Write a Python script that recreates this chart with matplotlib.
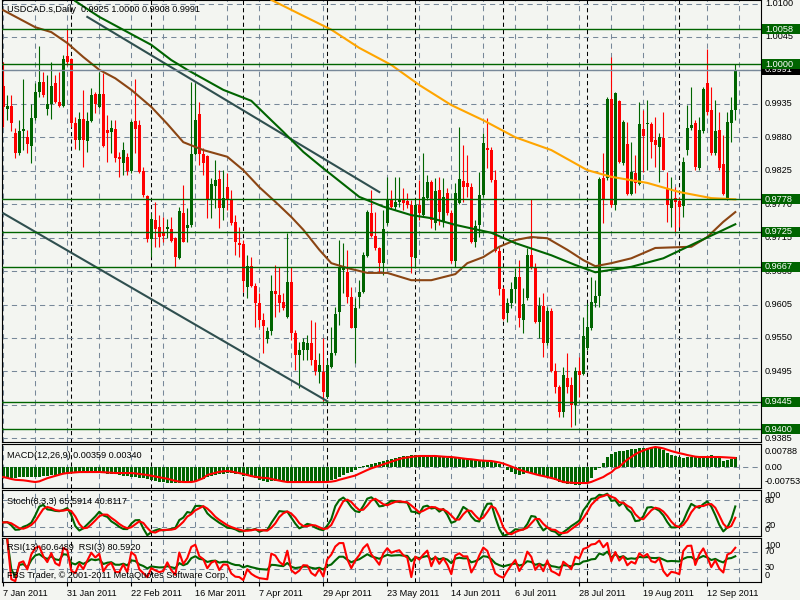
import numpy as np
import pandas as pd
import matplotlib
matplotlib.use("Agg")
import matplotlib.pyplot as plt
from matplotlib.patches import Rectangle
from matplotlib.transforms import blended_transform_factory

plt.rcParams['font.family'] = ['Liberation Sans', 'DejaVu Sans']

# USDCAD.s daily, 7 Jan 2011 .. 21 Sep 2011, prices in pips (1e-4)
opens = [9964, 9926, 9931, 9887, 9854, 9890, 9880, 9866, 9912, 9955,
         9971, 9926, 9935, 9969, 9938, 9931, 10014, 10009, 9903, 9876,
         9910, 9874, 9907, 9951, 9930, 9951, 9892, 9889, 9894, 9848,
         9838, 9848, 9825, 9907, 9900, 9825, 9783, 9713, 9744, 9733,
         9723, 9729, 9729, 9714, 9681, 9755, 9731, 9736, 9853, 9918,
         9853, 9849, 9779, 9800, 9811, 9764, 9798, 9779, 9741, 9706,
         9705, 9634, 9668, 9635, 9607, 9580, 9548, 9561, 9627, 9621,
         9609, 9584, 9642, 9558, 9522, 9530, 9530, 9542, 9514, 9494,
         9494, 9453, 9502, 9525, 9593, 9662, 9658, 9617, 9566, 9617,
         9626, 9685, 9755, 9718, 9698, 9673, 9739, 9779, 9765, 9774,
         9779, 9775, 9769, 9681, 9769, 9752, 9780, 9807, 9739, 9793,
         9741, 9788, 9755, 9677, 9772, 9808, 9805, 9798, 9708, 9736,
         9785, 9862, 9859, 9810, 9693, 9630, 9591, 9607, 9630, 9650,
         9580, 9616, 9686, 9665, 9576, 9602, 9542, 9594, 9496, 9469,
         9428, 9484, 9473, 9440, 9496, 9491, 9533, 9566, 9607, 9619,
         9813, 9813, 9943, 9769, 9940, 9838, 9869, 9787, 9821, 9803,
         9894, 9902, 9902, 9876, 9864, 9879, 9797, 9764, 9780, 9775,
         9767, 9859, 9895, 9903, 9829, 9890, 9969, 9925, 9854, 9892,
         9836, 9779, 9903, 9925]
highs = [10004, 9950, 9950, 9895, 9908, 9976, 9892, 9935, 9969, 10030,
         9987, 9982, 10004, 9982, 9987, 10015, 10058, 10010, 9913, 9922,
         9958, 9922, 9961, 9955, 9987, 9986, 9917, 9908, 9908, 9856,
         9872, 9854, 9908, 9976, 9908, 9831, 9785, 9755, 9774, 9752,
         9749, 9746, 9749, 9716, 9766, 9802, 9764, 9971, 9969, 9938,
         9862, 9851, 9813, 9843, 9826, 9826, 9821, 9793, 9752, 9733,
         9711, 9686, 9683, 9640, 9624, 9591, 9568, 9653, 9670, 9667,
         9624, 9723, 9667, 9563, 9543, 9550, 9555, 9580, 9576, 9525,
         9550, 9514, 9568, 9601, 9711, 9706, 9695, 9634, 9616, 9645,
         9691, 9760, 9793, 9757, 9700, 9760, 9815, 9793, 9815, 9815,
         9797, 9788, 9777, 9777, 9810, 9854, 9818, 9810, 9813, 9815,
         9813, 9797, 9760, 9805, 9897, 9867, 9851, 9805, 9744, 9823,
         9887, 9912, 9864, 9826, 9700, 9634, 9616, 9642, 9665, 9678,
         9632, 9698, 9779, 9673, 9617, 9624, 9601, 9599, 9509, 9472,
         9502, 9525, 9486, 9502, 9519, 9584, 9607, 9650, 9645, 9815,
         9854, 9946, 10012, 9955, 9941, 9908, 9905, 9872, 9851, 9938,
         9925, 9941, 9905, 9913, 9887, 9922, 9823, 9815, 9798, 9782,
         9848, 9933, 9963, 9908, 9913, 9963, 10025, 9963, 9941, 9922,
         9884, 9922, 9946, 10000]
lows = [9897, 9908, 9890, 9846, 9851, 9859, 9854, 9838, 9908, 9946,
        9946, 9917, 9910, 9936, 9930, 9930, 9999, 9897, 9861, 9859,
        9831, 9856, 9905, 9920, 9928, 9864, 9839, 9854, 9839, 9815,
        9818, 9818, 9821, 9854, 9821, 9782, 9708, 9683, 9700, 9700,
        9708, 9714, 9708, 9667, 9680, 9708, 9708, 9733, 9851, 9834,
        9818, 9747, 9747, 9764, 9731, 9744, 9760, 9736, 9686, 9683,
        9626, 9616, 9634, 9568, 9568, 9525, 9542, 9555, 9584, 9593,
        9596, 9583, 9547, 9497, 9468, 9514, 9514, 9505, 9489, 9476,
        9446, 9451, 9500, 9522, 9571, 9624, 9607, 9566, 9509, 9599,
        9624, 9683, 9716, 9695, 9657, 9653, 9736, 9764, 9760, 9765,
        9760, 9764, 9657, 9665, 9744, 9749, 9777, 9731, 9728, 9736,
        9733, 9752, 9673, 9667, 9770, 9774, 9782, 9706, 9700, 9716,
        9782, 9830, 9807, 9691, 9621, 9580, 9576, 9599, 9607, 9568,
        9558, 9612, 9663, 9575, 9550, 9519, 9538, 9494, 9459, 9420,
        9420, 9459, 9404, 9407, 9453, 9489, 9530, 9563, 9601, 9601,
        9739, 9810, 9765, 9760, 9838, 9834, 9785, 9785, 9788, 9802,
        9823, 9826, 9846, 9831, 9807, 9826, 9741, 9733, 9724, 9733,
        9749, 9851, 9892, 9826, 9826, 9887, 9917, 9851, 9851, 9826,
        9785, 9777, 9872, 9908]
closes = [9930, 9931, 9903, 9854, 9890, 9894, 9869, 9912, 9955, 9971,
          9950, 9935, 9964, 9938, 9931, 10009, 10004, 9903, 9876, 9910,
          9876, 9907, 9950, 9935, 9951, 9866, 9887, 9895, 9846, 9844,
          9859, 9825, 9905, 9894, 9823, 9785, 9713, 9746, 9729, 9716,
          9718, 9733, 9709, 9683, 9759, 9708, 9736, 9853, 9908, 9853,
          9838, 9779, 9803, 9810, 9764, 9780, 9779, 9739, 9708, 9703,
          9644, 9668, 9635, 9607, 9580, 9570, 9561, 9627, 9622, 9607,
          9599, 9642, 9558, 9522, 9530, 9543, 9542, 9514, 9496, 9505,
          9461, 9505, 9525, 9589, 9667, 9667, 9617, 9566, 9599, 9626,
          9686, 9757, 9718, 9698, 9673, 9729, 9779, 9765, 9774, 9779,
          9772, 9769, 9683, 9769, 9755, 9782, 9807, 9744, 9792, 9757,
          9782, 9755, 9677, 9788, 9811, 9798, 9798, 9708, 9734, 9785,
          9871, 9859, 9810, 9693, 9630, 9581, 9607, 9630, 9650, 9583,
          9606, 9686, 9665, 9576, 9602, 9542, 9594, 9496, 9469, 9428,
          9489, 9469, 9440, 9496, 9489, 9553, 9568, 9609, 9619, 9811,
          9779, 9943, 9769, 9953, 9839, 9905, 9787, 9823, 9805, 9902,
          9882, 9903, 9872, 9867, 9880, 9826, 9768, 9779, 9774, 9765,
          9839, 9895, 9900, 9831, 9892, 9959, 9922, 9854, 9890, 9830,
          9787, 9905, 9925, 9991]

# MACD(12,26,9) main and signal, in 1e-5
macd_main = [-414, -414, -414, -400, -376, -376, -376, -376, -376, -360,
             -340, -320, -301, -290, -270, -250, -226, -226, -226, -226,
             -226, -226, -226, -226, -226, -235, -245, -255, -263, -290,
             -320, -350, -370, -376, -400, -430, -460, -489, -520, -550,
             -580, -602, -610, -610, -605, -602, -580, -550, -520, -489,
             -440, -390, -340, -301, -280, -250, -235, -226, -250, -280,
             -320, -350, -376, -420, -470, -520, -564, -526, -530, -540,
             -550, -555, -560, -564, -564, -570, -580, -590, -600, -602,
             -602, -560, -500, -440, -380, -300, -230, -170, -100, -40,
             20, 70, 110, 150, 190, 240, 280, 310, 340, 370,
             400, 420, 440, 451, 451, 440, 430, 400, 376, 370,
             360, 350, 338, 330, 320, 310, 301, 290, 280, 270,
             263, 250, 240, 200, 100, 0, -100, -200, -280, -300,
             -260, -230, -240, -270, -301, -330, -360, -400, -470, -564,
             -600, -630, -650, -670, -677, -640, -564, -420, -100, -40,
             150, 376, 480, 564, 600, 620, 639, 670, 690, 714,
             714, 730, 740, 752, 700, 639, 540, 451, 400, 360,
             338, 360, 376, 376, 376, 376, 420, 451, 400, 376,
             226, 280, 301, 359]
macd_signal = [-376, -410, -450, -480, -489, -500, -520, -545, -564, -540,
               -480, -420, -376, -330, -290, -250, -226, -215, -200, -190,
               -188, -188, -188, -188, -188, -195, -205, -215, -226, -226,
               -226, -226, -226, -240, -260, -280, -301, -330, -360, -390,
               -414, -440, -480, -520, -550, -564, -564, -564, -540, -480,
               -420, -301, -260, -220, -180, -160, -150, -170, -200, -226,
               -260, -300, -340, -370, -390, -410, -414, -450, -480, -510,
               -540, -564, -564, -564, -564, -564, -564, -564, -564, -564,
               -564, -564, -550, -526, -480, -440, -400, -360, -320, -250,
               -180, -113, -50, 0, 50, 100, 150, 200, 250, 300,
               338, 360, 380, 400, 414, 414, 414, 414, 414, 400,
               390, 380, 376, 360, 340, 320, 301, 290, 270, 250,
               240, 230, 226, 200, 170, 130, 75, 20, -40, -100,
               -150, -188, -230, -270, -310, -340, -376, -410, -450, -510,
               -564, -580, -590, -600, -602, -602, -602, -560, -500, -440,
               -376, -280, -200, -60, 0, 150, 280, 376, 480, 560,
               620, 677, 720, 752, 730, 700, 650, 600, 560, 520,
               489, 450, 420, 390, 376, 376, 376, 376, 376, 376,
               370, 360, 350, 340]

# moving averages (bar index, price)
brown_bar = [0, 8, 12, 16, 20, 24, 28, 32, 37, 41, 45, 50, 56, 60, 64, 68, 72, 75, 79, 82,
             86, 91, 96, 102, 107, 113, 116, 120, 124, 128, 132, 136, 141, 145, 148, 152,
             157, 163, 172, 176, 180, 183]
brown_ma = [1.0089, 1.0061, 1.0053, 1.0035, 1.0012, 0.9991, 0.9977, 0.9958, 0.9930, 0.9902,
            0.9872, 0.9859, 0.9848, 0.9826, 0.9798, 0.9774, 0.9749, 0.9728, 0.9695, 0.9673,
            0.9665, 0.9657, 0.9657, 0.9645, 0.9645, 0.9655, 0.9673, 0.9683, 0.9700, 0.9711,
            0.9716, 0.9714, 0.9695, 0.9678, 0.9668, 0.9673, 0.9681, 0.9698, 0.9700, 0.9716,
            0.9741, 0.9757]
green_bar = [18, 24, 37, 42, 46, 55, 62, 67, 70, 75, 80, 89, 95, 102, 107, 113, 122, 128,
             137, 143, 148, 157, 165, 173, 183]
green_ma = [1.0104, 1.0078, 1.0032, 1.0007, 0.9991, 0.9958, 0.9940, 0.9908, 0.9889, 0.9856,
            0.9829, 0.9782, 0.9766, 0.9752, 0.9747, 0.9736, 0.9723, 0.9706, 0.9686, 0.9670,
            0.9658, 0.9667, 0.9681, 0.9706, 0.9737]
orange_bar = [67, 74, 82, 89, 97, 104, 112, 120, 128, 137, 146, 152, 161, 169, 177, 183]
orange_ma = [1.0106, 1.0083, 1.0057, 1.0027, 0.9999, 0.9966, 0.9933, 0.9908, 0.9880, 0.9859,
             0.9826, 0.9815, 0.9805, 0.9790, 0.9780, 0.9778]

# trend lines (bar index, price)
trend_upper_bar = [21, 94]
trend_upper = [1.0078, 0.9790]
trend_lower_bar = [0, 81]
trend_lower = [0.9755, 0.9446]

levels = [1.0058, 1.0000, 0.9778, 0.9725, 0.9667, 0.9445, 0.9400]
bid = 0.9991
price_ticks = [1.0100, 1.0045, 0.9990, 0.9935, 0.9880, 0.9825, 0.9770,
               0.9715, 0.9660, 0.9605, 0.9550, 0.9495, 0.9440, 0.9385]

n = len(closes)
assert len(opens) == n and len(highs) == n and len(lows) == n
assert len(macd_main) == n and len(macd_signal) == n

o = np.array(opens) / 1e4
h = np.array(highs) / 1e4
l = np.array(lows) / 1e4
c = np.array(closes) / 1e4
macd = np.array(macd_main) / 1e5
sig = np.array(macd_signal) / 1e5
x = np.arange(n)

dates = pd.bdate_range('2011-01-07', periods=n)
month_starts = [i for i in range(1, n) if dates[i].month != dates[i - 1].month]
label_bars = list(range(0, n, 16))
date_labels = [f"{dates[i].day} {dates[i]:%b %Y}" for i in label_bars]

# indicators from the price data
cs, hs, ls_ = pd.Series(c), pd.Series(h), pd.Series(l)
hh = hs.rolling(8, min_periods=1).max()
ll = ls_.rolling(8, min_periods=1).min()
stoch_k = 100 * (cs - ll).rolling(3, min_periods=1).sum() / (hh - ll).rolling(3, min_periods=1).sum()
stoch_d = stoch_k.rolling(3, min_periods=1).mean()


def rsi(period):
    diff = cs.diff()
    up = diff.clip(lower=0).ewm(alpha=1 / period, adjust=False).mean()
    dn = (-diff.clip(upper=0)).ewm(alpha=1 / period, adjust=False).mean()
    return 100 - 100 / (1 + up / dn)


rsi13 = rsi(13)
rsi3 = rsi(3)

BG = '#f3f5f1'
GRID = '#778899'
BULL = '#006400'
BEAR = '#ff0000'
FS = 6.6
W, H = 800, 600
X0, X1 = 2, 761

fig = plt.figure(figsize=(W / 100, H / 100), dpi=100, facecolor=BG)


def panel(top, bottom):
    ax = fig.add_axes([X0 / W, 1 - bottom / H, (X1 - X0) / W, (bottom - top) / H], facecolor=BG)
    ax.set_xlim((X0 - 3.3) / 4, (X1 - 3.3) / 4)
    for s in ax.spines.values():
        s.set_color('black')
        s.set_linewidth(0.8)
    ax.set_xticks([])
    ax.set_yticks([])
    for b in range(0, n + 8, 8):
        ax.axvline(b, color=GRID, lw=0.75, ls=(0, (5, 4)), zorder=0)
    for b in month_starts:
        ax.axvline(b, color='black', lw=0.75, ls=(0, (4, 3)), zorder=0)
    return ax


def ptext(px, py, s, **kw):
    fig.text(px / W, 1 - py / H, s, va='center', ha='left', fontsize=FS, **kw)


# main chart
ax = panel(0, 442)
ax.set_ylim(0.93789, 1.01058)
for p in price_ticks:
    ax.axhline(p, color=GRID, lw=0.75, ls=(0, (5, 4)), zorder=0)

up = c >= o
col = np.where(up, BULL, BEAR)
ax.vlines(x, l, h, colors=col, lw=0.8, zorder=2)
ax.bar(x, np.maximum(np.abs(c - o), 0.00012), width=0.75, bottom=np.minimum(o, c),
       color=col, lw=0, zorder=2)

ax.plot(trend_upper_bar, trend_upper, color='#2f4f4f', lw=1.5, zorder=3)
ax.plot(trend_lower_bar, trend_lower, color='#2f4f4f', lw=1.5, zorder=3)
ax.plot(brown_bar, brown_ma, color='#8b4513', lw=1.5, zorder=3)
ax.plot(green_bar, green_ma, color=BULL, lw=1.5, zorder=3)
ax.plot(orange_bar, orange_ma, color='#ffa500', lw=1.5, zorder=3)
for lv in levels:
    ax.axhline(lv, color=BULL, lw=1.0, zorder=4)
ax.axhline(bid, color=GRID, lw=1.0, zorder=4)

ptext(7, 10, f"USDCAD.s,Daily  {o[-1]:.4f} {h[-1]:.4f} {l[-1]:.4f} {c[-1]:.4f}", zorder=6)

tr = blended_transform_factory(fig.transFigure, ax.transData)
ppx = (1.01058 - 0.93789) / 442
for p in price_ticks:
    fig.text(765 / W, p, f"{p:.4f}", transform=tr, va='center', fontsize=FS, zorder=3)
fig.add_artist(Rectangle((762 / W, bid - 5 * ppx), 38 / W, 10 * ppx, transform=tr,
                         fc='black', ec='none', zorder=4))
fig.text(765 / W, bid, f"{bid:.4f}", transform=tr, va='center', fontsize=FS,
         color='white', zorder=4.5)
for lv in levels:
    fig.add_artist(Rectangle((762 / W, lv - 5 * ppx), 38 / W, 10 * ppx, transform=tr,
                             fc=BULL, ec='none', zorder=5))
    fig.text(765 / W, lv, f"{lv:.4f}", transform=tr, va='center', fontsize=FS,
             color='white', zorder=5.5)

# MACD
axm = panel(444, 488)
axm.set_ylim(-0.00789, 0.00865)
axm.axhline(0, color=GRID, lw=0.75, ls=(0, (5, 4)), zorder=0)
axm.bar(x, macd, width=0.75, color=BULL, lw=0, zorder=2)
axm.plot(x, sig, color=BEAR, lw=1.5, zorder=3)
ptext(7, 455, f"MACD(12,26,9) {macd[-1]:.5f} {sig[-1]:.5f}", zorder=6)
ptext(765, 452, "0.00788")
ptext(765, 467, "0.00")
ptext(765, 482, "-0.00753")

# Stochastic
axs = panel(490, 536)
axs.set_ylim(0.9, 102)
for lv in (80, 20):
    axs.axhline(lv, color=GRID, lw=0.75, ls=(0, (5, 4)), zorder=0)
axs.plot(x, stoch_k, color=BULL, lw=1.5, zorder=2)
axs.plot(x, stoch_d, color=BEAR, lw=1.5, zorder=3)
ptext(7, 501, "Stoch(8,3,3) 65.5914 40.8117", zorder=6)
ptext(765, 496, "100")
ptext(765, 500.5, "80")
ptext(765, 525.5, "20")
ptext(765, 530, "0")

# RSI
axr = panel(538, 582)
axr.set_ylim(0.1, 103.6)
for lv in (70, 30):
    axr.axhline(lv, color=GRID, lw=0.75, ls=(0, (5, 4)), zorder=0)
axr.plot(x, rsi13, color=BULL, lw=1.5, zorder=2)
axr.plot(x, rsi3, color=BEAR, lw=1.5, zorder=3)
ptext(7, 548, "RSI(13) 60.6489  RSI(3) 80.5920", zorder=6)
ptext(7, 575, "FBS Trader, \u00a9 2001-2011 MetaQuotes Software Corp.", zorder=6)
ptext(765, 545, "100")
ptext(765, 552, "70")
ptext(765, 568, "30")
ptext(765, 575, "0")

axr.set_xticks(label_bars)
axr.set_xticklabels(date_labels, ha='left', fontsize=FS)
axr.tick_params(axis='x', length=3, width=0.8, pad=2, color='black')

fig.savefig('out.png', dpi=100, facecolor=BG)
